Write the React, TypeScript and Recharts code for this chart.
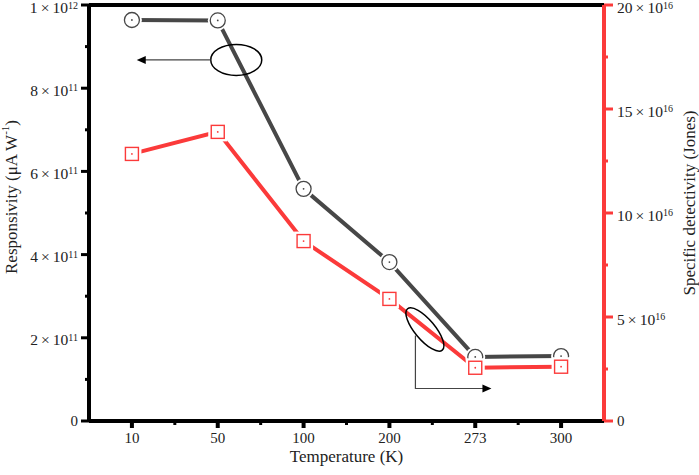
import React from "react"
import { ComposedChart, Line, XAxis, YAxis, ReferenceLine, ReferenceDot } from "recharts"

const temperatures = ["10", "50", "100", "200", "273", "300"]
const responsivity = [0.964e12, 0.963e12, 0.558e12, 0.382e12, 0.154e12, 0.156e12]
const detectivity = [12.84e16, 13.9e16, 8.65e16, 5.87e16, 2.56e16, 2.61e16]

const respTicks = [0, 1e11, 2e11, 3e11, 4e11, 5e11, 6e11, 7e11, 8e11, 9e11, 1e12]
const respLabels = ["0", "", "2|11", "", "4|11", "", "6|11", "", "8|11", "", "1|12"]
const detTicks = [0, 2.5e16, 5e16, 7.5e16, 10e16, 12.5e16, 15e16, 17.5e16, 20e16]
const detLabels = ["0", "", "5|16", "", "10|16", "", "15|16", "", "20|16"]

const BLACK = "#474747"
const RED = "#fb3a3a"
const FONT = "'Liberation Serif', 'Times New Roman', serif"

const data = temperatures.map((t, i) => ({ temp: t, resp: responsivity[i], det: detectivity[i] }))

function SciLabel({ x, y, label, anchor, fill }: any) {
  if (!label.includes("|")) {
    return (
      <text x={x} y={y + 5} textAnchor={anchor} fontSize={15} fontFamily={FONT} fill={fill}>
        {label}
      </text>
    )
  }
  const [m, e] = label.split("|")
  const base = Math.max(y + 7.5, 13)
  return (
    <text x={x} y={base} textAnchor={anchor} fontSize={15.5} fontFamily={FONT} fill={fill}>
      {m}{"\u2009×\u200910"}
      <tspan dy={-4.5} fontSize={10}>{e}</tspan>
    </text>
  )
}

function LeftTick(props: any) {
  const { x, y, index } = props
  const major = index % 2 === 0
  return (
    <g>
      <line x1={x - (major ? 8 : 4)} x2={x} y1={y} y2={y} stroke="#000" strokeWidth={3} />
      {major && <SciLabel x={x - 11} y={y} label={respLabels[index]} anchor="end" fill="#222" />}
    </g>
  )
}

function RightTick(props: any) {
  const { x, y, index } = props
  const major = index % 2 === 0
  return (
    <g>
      <line x1={x} x2={x + (major ? 9 : 4)} y1={y} y2={y} stroke={RED} strokeWidth={3} />
      {major && <SciLabel x={x + 13} y={y} label={detLabels[index]} anchor="start" fill="#222" />}
    </g>
  )
}

function BottomTick(props: any) {
  const { x, y, index, payload } = props
  const half = 515 / 12
  return (
    <g>
      <line x1={x} x2={x} y1={y} y2={y + 7} stroke="#000" strokeWidth={4} />
      {index < temperatures.length - 1 && (
        <line x1={x + half} x2={x + half} y1={y} y2={y + 4} stroke="#000" strokeWidth={3} />
      )}
      <text x={x} y={y + 22} textAnchor="middle" fontSize={15} fontFamily={FONT} fill="#222">
        {payload.value}
      </text>
    </g>
  )
}

function CircleDot(props: any) {
  const { cx, cy } = props
  if (cx == null || cy == null) return null
  return (
    <g>
      <circle cx={cx} cy={cy} r={10} fill="#fff" />
      <circle cx={cx} cy={cy} r={7.5} fill="#fff" stroke={BLACK} strokeWidth={1.3} />
      <circle cx={cx} cy={cy} r={0.9} fill={BLACK} />
    </g>
  )
}

function SquareDot(props: any) {
  const { cx, cy } = props
  if (cx == null || cy == null) return null
  return (
    <g>
      <rect x={cx - 9.5} y={cy - 9.5} width={19} height={19} fill="#fff" />
      <rect x={cx - 6.5} y={cy - 6.5} width={13} height={13} fill="#fff" stroke={RED} strokeWidth={1.4} />
      <circle cx={cx} cy={cy} r={0.9} fill={RED} />
    </g>
  )
}

// arrow pointing left to the responsivity axis
function LeftNote(props: any) {
  const { cx, cy } = props
  const ex = cx + 18.5
  return (
    <g>
      <ellipse cx={ex} cy={cy} rx={25.5} ry={15.5} fill="none" stroke="#000" strokeWidth={1.5} />
      <line x1={ex - 25.5} x2={cx - 73} y1={cy} y2={cy} stroke="#444" strokeWidth={1.2} />
      <path d={`M ${cx - 81} ${cy} L ${cx - 72} ${cy - 4} L ${cx - 72} ${cy + 4} Z`} fill="#000" />
    </g>
  )
}

// arrow pointing right to the detectivity axis
function RightNote(props: any) {
  const { cx, cy } = props
  const ex = cx + 35.5
  const lx = cx + 26
  return (
    <g>
      <ellipse cx={ex} cy={cy} rx={27} ry={10} fill="none" stroke="#000" strokeWidth={1.5}
        transform={`rotate(50 ${ex} ${cy})`} />
      <path d={`M ${lx} ${cy + 6} L ${lx} ${cy + 59} L ${cx + 94} ${cy + 59}`} fill="none" stroke="#444" strokeWidth={1.2} />
      <path d={`M ${cx + 102} ${cy + 59} L ${cx + 93} ${cy + 55} L ${cx + 93} ${cy + 63} Z`} fill="#000" />
    </g>
  )
}

export default function App() {
  return (
    <div style={{ position: "absolute", left: 0, top: 0, background: "#fff" }}>
      <ComposedChart width={699} height={475} data={data} margin={{ top: 5, right: 0, left: 0, bottom: 0 }}>
        <XAxis
          dataKey="temp"
          scale="band"
          height={54}
          interval={0}
          tickSize={0}
          tickMargin={0}
          tickLine={false}
          axisLine={{ stroke: "#000", strokeWidth: 4 }}
          tick={<BottomTick />}
          label={{ value: "Temperature (K)", position: "insideBottom", offset: 13, fontSize: 17, fontFamily: FONT, fill: "#222" }}
        />
        <YAxis
          yAxisId="left"
          domain={[0, 1e12]}
          ticks={respTicks}
          interval={0}
          width={89}
          tickSize={0}
          tickMargin={0}
          tickLine={false}
          axisLine={{ stroke: "#000", strokeWidth: 4 }}
          tick={<LeftTick />}
        />
        <YAxis
          yAxisId="right"
          orientation="right"
          domain={[0, 20e16]}
          ticks={detTicks}
          interval={0}
          width={95}
          tickSize={0}
          tickMargin={0}
          tickLine={false}
          axisLine={{ stroke: RED, strokeWidth: 4 }}
          tick={<RightTick />}
        />
        <ReferenceLine yAxisId="left" y={1e12} stroke="#000" strokeWidth={4} />
        <Line yAxisId="left" dataKey="resp" stroke={BLACK} strokeWidth={4} dot={<CircleDot />} activeDot={false} isAnimationActive={false} />
        <Line yAxisId="right" dataKey="det" stroke={RED} strokeWidth={4} dot={<SquareDot />} activeDot={false} isAnimationActive={false} />
        <ReferenceDot yAxisId="left" x="50" y={0.868e12} shape={<LeftNote />} />
        <ReferenceDot yAxisId="left" x="200" y={0.22e12} shape={<RightNote />} />
        <text x={11} y={197} transform="rotate(-90 11 197)" textAnchor="middle" dominantBaseline="central" fontSize={17} fontFamily={FONT} fill="#222">
          Responsivity (μA W<tspan dy={-6} fontSize={11}>-1</tspan><tspan dy={6}>)</tspan>
        </text>
        <text x={689} y={203} transform="rotate(-90 689 203)" textAnchor="middle" dominantBaseline="central" fontSize={17} fontFamily={FONT} fill="#222">
          Specific detectivity (Jones)
        </text>
      </ComposedChart>
    </div>
  )
}
